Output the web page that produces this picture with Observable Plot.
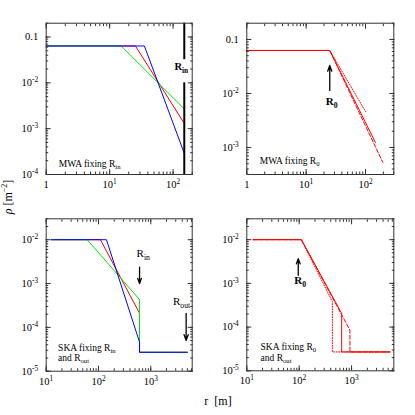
<!DOCTYPE html>
<html><head><meta charset="utf-8">
<script src="https://cdn.jsdelivr.net/npm/d3@7"></script>
<script src="https://cdn.jsdelivr.net/npm/@observablehq/plot@0.6"></script>
<style>
body{margin:0;background:#fff;}
#wrap{position:relative;width:415px;height:415px;font-family:"Liberation Serif",serif;color:#000;}
.lab{position:absolute;font-family:"Liberation Serif",serif;font-size:12px;white-space:nowrap;}
</style></head><body><div id="wrap"></div>
<script>
// ---------- data ----------
// top-left: MWA fixing R_in
const mwaFixRin = [
  {series:"red", r:1, rho:0.0637}, {series:"red", r:25.5, rho:0.0637}, {series:"red", r:150, rho:0.0013},
  {series:"green", r:1, rho:0.0637}, {series:"green", r:15.2, rho:0.0637}, {series:"green", r:150, rho:0.0027},
  {series:"blue", r:1, rho:0.0637}, {series:"blue", r:35.3, rho:0.0637}, {series:"blue", r:150, rho:0.00029}
];
const mwaRinMarker = [{r:150, y1:0.2, y2:0.032}, {r:150, y1:0.01, y2:1e-4}];
// top-right: MWA fixing R_0
const mwaFixR0 = [
  {series:"solid", r:1, rho:0.0625}, {series:"solid", r:25, rho:0.0625}, {series:"solid", r:147, rho:0.00124},
  {series:"dashed", r:1, rho:0.0625}, {series:"dashed", r:25, rho:0.0625}, {series:"dashed", r:195, rho:0.000535},
  {series:"dotted", r:1, rho:0.0625}, {series:"dotted", r:25, rho:0.0625}, {series:"dotted", r:100, rho:0.00464}
];
const mwaR0Arrow = [{r:25, from:0.0114, to:0.033}];
// bottom-left: SKA fixing R_in and R_out
const skaFixRin = [
  {series:"red", r:12.6, rho:0.01}, {series:"red", r:109, rho:0.01}, {series:"red", r:610, rho:2.1e-4}, {series:"red", r:610, rho:2.7e-5}, {series:"red", r:5000, rho:2.7e-5},
  {series:"green", r:12.6, rho:0.01}, {series:"green", r:60.8, rho:0.01}, {series:"green", r:610, rho:4.3e-4}, {series:"green", r:610, rho:2.7e-5}, {series:"green", r:5000, rho:2.7e-5},
  {series:"blue", r:12.6, rho:0.01}, {series:"blue", r:142, rho:0.01}, {series:"blue", r:610, rho:4.6e-5}, {series:"blue", r:610, rho:2.7e-5}, {series:"blue", r:5000, rho:2.7e-5}
];
const skaRinArrows = [{r:610, from:2.37e-3, to:1e-3}, {r:4750, from:2.07e-4, to:5.05e-5}];
// bottom-right: SKA fixing R_0 and R_out
const skaFixR0 = [
  {series:"solid", r:13.2, rho:0.01}, {series:"solid", r:110, rho:0.01}, {series:"solid", r:647, rho:2.06e-4}, {series:"solid", r:647, rho:2.7e-5}, {series:"solid", r:5400, rho:2.7e-5},
  {series:"dashed", r:13.2, rho:0.01}, {series:"dashed", r:110, rho:0.01}, {series:"dashed", r:931, rho:8.5e-5}, {series:"dashed", r:931, rho:2.7e-5}, {series:"dashed", r:5400, rho:2.7e-5},
  {series:"dotted", r:13.2, rho:0.01}, {series:"dotted", r:110, rho:0.01}, {series:"dotted", r:430, rho:3.8e-4}, {series:"dotted", r:430, rho:2.7e-5}, {series:"dotted", r:5400, rho:2.7e-5}
];
const skaR0Arrow = [{r:96, from:1.53e-3, to:3.68e-3}];

// tick values and labels
const xTicksTop = [1, 10, 100];
const xLabelsTop = ["1", "10^1", "10^2"];
const xTicksBottom = [10, 100, 1000];
const xLabelsBottom = ["10^1", "10^2", "10^3"];
const yTicksTopLeft = [0.1, 0.01, 0.001, 0.0001];
const yLabelsTopLeft = ["0.1", "10^-2", "10^-3", "10^-4"];
const yTicksTopRight = [0.1, 0.01, 0.001];
const yLabelsTopRight = ["0.1", "10^-2", "10^-3"];
const yTicksBottom = [0.01, 0.001, 0.0001, 0.00001];
const yLabelsBottom = ["10^-2", "10^-3", "10^-4", "10^-5"];

// annotation texts
const notesTL = [{r:1.58, rho:1.71e-4, text:"MWA fixing R_in"}];
const markerTL = [{r:150, rho:0.0231, text:"R_in"}];
const notesTR = [{r:1.65, rho:5.75e-4, text:"MWA fixing R_0"}];
const markerTR = [{r:25, rho:0.0071, text:"R_0"}];
const notesBL = [{r:16.9, rho:2.67e-5, text:"SKA fixing R_in\nand R_out"}];
const markerBLin = [{r:610, rho:4.8e-3, text:"R_in"}];
const markerBLout = [{r:4750, rho:3.8e-4, text:"R_out"}];
const notesBR = [{r:18.3, rho:2.67e-5, text:"SKA fixing R_0\nand R_out"}];
const markerBR = [{r:96, rho:1.17e-3, text:"R_0"}];

const colors = {red:"#ff0000", green:"#00e600", blue:"#0000ff"};
const dashes = {solid:null, dashed:"4,2", dotted:"1,1.6"};

// ---------- helpers ----------
const wrap = document.getElementById("wrap");
const fmt = (ticks, labels) => v => { const i = ticks.findIndex(t => Math.abs(t - v) / t < 1e-6); return i < 0 ? "" : labels[i]; };
const minorTicks = dom => d3.scaleLog().domain(dom).ticks();

function axes(xDom, yDom, xT, xL, yT, yL) {
  const xm = minorTicks(xDom), ym = minorTicks(yDom);
  const none = () => "";
  const o = {label: null};
  return [
    Plot.axisX(xm, {...o, anchor:"bottom", tickSize:-2.5, tickFormat:none, stroke:"#333"}),
    Plot.axisX(xm, {...o, anchor:"top", tickSize:-2.5, tickFormat:none, stroke:"#333"}),
    Plot.axisX(xT, {...o, anchor:"bottom", tickSize:-5, tickFormat:none, stroke:"#333"}),
    Plot.axisX(xT, {...o, anchor:"top", tickSize:-5, tickFormat:none, stroke:"#333"}),
    Plot.axisY(ym, {...o, anchor:"left", tickSize:-2.5, tickFormat:none, stroke:"#333"}),
    Plot.axisY(ym, {...o, anchor:"right", tickSize:-2.5, tickFormat:none, stroke:"#333"}),
    Plot.axisY(yT, {...o, anchor:"left", tickSize:-5, tickFormat:none, stroke:"#333"}),
    Plot.axisY(yT, {...o, anchor:"right", tickSize:-5, tickFormat:none, stroke:"#333"}),
    Plot.axisX(xT, {...o, anchor:"bottom", tickSize:0, tickPadding:6, tickFormat:fmt(xT, xL), fontSize:10.5}),
    Plot.axisY(yT, {...o, anchor:"left", tickSize:0, tickPadding:8, tickFormat:fmt(yT, yL), fontSize:10.5})
  ];
}

function richText(svg) {
  svg.querySelectorAll("text, tspan").forEach(el => {
    if (el.children.length) return;
    const s = el.textContent;
    const m = s.match(/^(.*?)([_^])(\S+)(.*)$/);
    if (!m) return;
    const fs = parseFloat(getComputedStyle(el).fontSize) || 10;
    el.textContent = "";
    el.appendChild(document.createTextNode(m[1]));
    const t = document.createElementNS("http://www.w3.org/2000/svg", "tspan");
    t.setAttribute("font-size", (fs * 0.7).toFixed(2));
    t.setAttribute("baseline-shift", m[2] === "_" ? (-0.25 * fs).toFixed(2) : (0.42 * fs).toFixed(2));
    t.textContent = m[3];
    el.appendChild(t);
    if (m[4]) el.appendChild(document.createTextNode(m[4]));
  });
}

function panel(box, frame, xDom, yDom, ax, marks) {
  const [ox, oy, W, H] = box;
  const [fl, ft, fr, fb] = frame;
  const svg = Plot.plot({
    width: W, height: H,
    marginLeft: fl - ox, marginTop: ft - oy, marginRight: ox + W - fr, marginBottom: oy + H - fb,
    x: {type: "log", domain: xDom, label: null},
    y: {type: "log", domain: yDom, label: null},
    style: {fontFamily: "'Liberation Serif', serif", fontSize: "10px", background: "transparent", overflow: "visible"},
    marks: [...marks, ...ax, Plot.frame({stroke: "#333", strokeWidth: 1})]
  });
  svg.style.position = "absolute";
  svg.style.left = ox + "px";
  svg.style.top = oy + "px";
  wrap.appendChild(svg);
  richText(svg);
}

const colorLines = data => ["red", "green", "blue"].map(s =>
  Plot.line(data.filter(d => d.series === s), {x: "r", y: "rho", stroke: colors[s], strokeWidth: 1}));
const styleLines = data => ["dotted", "dashed", "solid"].map(s =>
  Plot.line(data.filter(d => d.series === s), {x: "r", y: "rho", stroke: colors.red, strokeWidth: 1, strokeDasharray: dashes[s]}));
const note = d => Plot.text(d, {x: "r", y: "rho", text: "text", textAnchor: "start", fontSize: 9.5, lineHeight: 1.1});

// ---------- panels ----------
const dTL = [[1, 200], [1e-4, 0.2]];
panel([0, 0, 207, 205], [45.7, 22.7, 191.7, 174], dTL[0], dTL[1],
  axes(dTL[0], dTL[1], xTicksTop, xLabelsTop, yTicksTopLeft, yLabelsTopLeft), [
    ...colorLines(mwaFixRin),
    Plot.ruleX(mwaRinMarker, {x: "r", y1: "y1", y2: "y2", stroke: "#000", strokeWidth: 2}),
    Plot.text(markerTL, {x: "r", y: "rho", text: "text", dx: -3, fontSize: 10.5, fontWeight: "bold"}),
    note(notesTL)
  ]);

const dTR = [[1, 300], [3.16e-4, 0.2]];
panel([207, 0, 208, 205], [246.3, 22.7, 393.3, 174], dTR[0], dTR[1],
  axes(dTR[0], dTR[1], xTicksTop, xLabelsTop, yTicksTopRight, yLabelsTopRight), [
    ...styleLines(mwaFixR0),
    Plot.arrow(mwaR0Arrow, {x: "r", y1: "from", y2: "to", stroke: "#000", strokeWidth: 1.3, headLength: 7, headAngle: 40}),
    Plot.text(markerTR, {x: "r", y: "rho", text: "text", dx: 2, fontSize: 11, fontWeight: "bold"}),
    note(notesTR)
  ]);

const dBL = [[10, 6200], [1e-5, 0.03]];
panel([0, 205, 207, 190], [45.7, 218.3, 191.7, 370.7], dBL[0], dBL[1],
  axes(dBL[0], dBL[1], xTicksBottom, xLabelsBottom, yTicksBottom, yLabelsBottom), [
    ...colorLines(skaFixRin),
    Plot.arrow(skaRinArrows, {x: "r", y1: "from", y2: "to", stroke: "#000", strokeWidth: 1.3, headLength: 7, headAngle: 40}),
    Plot.text(markerBLin, {x: "r", y: "rho", text: "text", dx: -3, textAnchor: "start", fontSize: 11}),
    Plot.text(markerBLout, {x: "r", y: "rho", text: "text", dx: 4, textAnchor: "end", fontSize: 11}),
    note(notesBL)
  ]);

const dBR = [[10, 6400], [1e-5, 0.03]];
panel([207, 205, 208, 190], [246.3, 218.3, 393.3, 370.3], dBR[0], dBR[1],
  axes(dBR[0], dBR[1], xTicksBottom, xLabelsBottom, yTicksBottom, yLabelsBottom), [
    ...styleLines(skaFixR0),
    Plot.arrow(skaR0Arrow, {x: "r", y1: "from", y2: "to", stroke: "#000", strokeWidth: 1.3, headLength: 7, headAngle: 40}),
    Plot.text(markerBR, {x: "r", y: "rho", text: "text", dx: 2, fontSize: 11, fontWeight: "bold"}),
    note(notesBR)
  ]);

// ---------- shared axis titles ----------
const yt = document.createElement("div");
yt.className = "lab";
yt.innerHTML = "<i>ρ</i>&nbsp;[m<sup style='font-size:8px'>−2</sup>]";
yt.style.left = "8px"; yt.style.top = "197px";
yt.style.transform = "translate(-50%,-50%) rotate(-90deg)";
wrap.appendChild(yt);
const xt = document.createElement("div");
xt.className = "lab";
xt.innerHTML = "r&nbsp;&nbsp;[m]";
xt.style.left = "218px"; xt.style.top = "401px";
xt.style.transform = "translate(-50%,-50%)";
wrap.appendChild(xt);
</script></body></html>
